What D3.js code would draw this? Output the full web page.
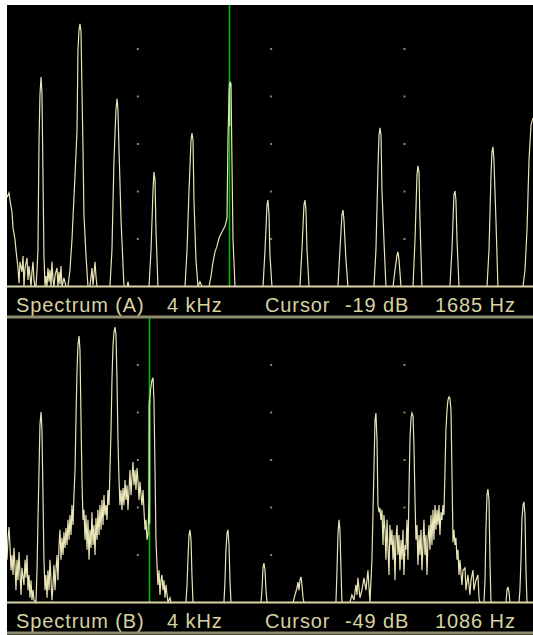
<!DOCTYPE html>
<html>
<head>
<meta charset="utf-8">
<script src="https://cdn.jsdelivr.net/npm/d3@7"></script>
<style>
  html, body { margin: 0; padding: 0; background: #ffffff; }
  svg { display: block; }
</style>
</head>
<body>
<svg id="chart" width="533" height="635"></svg>
<script>
// ---- analyser settings -------------------------------------------------
const spanHz = [0, 4000];
const spanLabel = "4 kHz";
const gridHz = [1000, 2000, 3000];
const panelNames = ["Spectrum (A)", "Spectrum (B)"];
const refLevelDb = [0, -30];          // level at the top edge of each screen
const dbPerDiv = 10;
const divisions = 6;
const cursorHz = [1685, 1086];
const cursorDb = [-19, -49];

// ---- measured spectra: [frequency Hz, level dB] ------------------------
const traceA = [
  [19,-41.2],[34,-40.3],[41,-41.8],[56,-44.3],[64,-47.7],[79,-50.2],[86,-52.3],[101,-56.1],
  [109,-59.3],[116,-54.8],[131,-56.9],[139,-53.6],[146,-60],[154,-56.1],[169,-54.0],[176,-58.6],
  [184,-55.7],[199,-60],[206,-56.9],[214,-54.8],[221,-58.6],[229,-60],[236,-60],
  [244,-56.5],[251,-52.3],[259,-29.2],[266,-19.7],[274,-15.9],[281,-19.1],[289,-37.6],[296,-53.4],[304,-60],
  [311,-57.8],[319,-60],[326,-56.1],[334,-59.0],[341,-56.5],[349,-60],[356,-54.8],[364,-58.6],
  [371,-60],[379,-57.6],[394,-56.1],[401,-60],[409,-56.9],[416,-59.5],[424,-55.7],[431,-60],[446,-58.2],[461,-60],
  [476,-60],[491,-56.5],[506,-50.2],[529,-36.5],[544,-27.1],[551,-10.2],[559,-6.0],[566,-4.7],
  [574,-6.4],[581,-18.6],[589,-31.3],[596,-44.9],[611,-53.4],[626,-60],
  [641,-60],[656,-56.1],[664,-59.7],[679,-54.8],[686,-57.8],[694,-60],[716,-60],
  [791,-60],[806,-52.3],[821,-33.4],[836,-22.8],[844,-20.5],[851,-22.8],[859,-31.3],[874,-46.0],[896,-60],
  [919,-60],[926,-59.0],[934,-60],
  [1084,-60],[1099,-52.3],[1114,-39.7],[1121,-35.9],[1129,-37.6],[1136,-48.1],[1151,-60],
  [1354,-60],[1369,-52.3],[1384,-39.7],[1399,-29.2],[1406,-27.7],[1414,-29.2],[1421,-41.8],[1436,-54.4],
  [1451,-60],[1466,-59.0],[1481,-60],
  [1534,-60],[1549,-57.8],[1564,-54.8],[1579,-52.7],[1594,-51.5],[1609,-49.8],[1624,-48.9],[1639,-48.1],
  [1654,-47.3],[1669,-45.6],[1676,-29.2],[1685,-19],[1693,-16.9],[1699,-17.4],[1706,-33.4],[1714,-50.2],[1729,-60],
  [1939,-60],[1954,-52.3],[1969,-42.8],[1976,-41.8],[1984,-44.9],[1991,-53.4],[2006,-60],
  [2216,-60],[2231,-52.3],[2246,-42.8],[2254,-41.8],[2261,-43.9],[2269,-52.3],[2284,-60],
  [2501,-60],[2516,-52.3],[2531,-44.9],[2539,-43.9],[2546,-46.0],[2561,-54.4],[2576,-60],
  [2771,-60],[2786,-52.3],[2801,-35.5],[2809,-28.1],[2816,-26.6],[2824,-28.1],[2831,-39.7],[2846,-50.2],[2861,-60],
  [2914,-60],[2929,-56.5],[2944,-53.4],[2951,-52.7],[2959,-54.4],[2974,-60],
  [3064,-60],[3079,-50.2],[3094,-36.5],[3101,-34.6],[3109,-35.9],[3116,-46.0],[3131,-60],
  [3341,-60],[3356,-52.3],[3371,-40.7],[3379,-39.9],[3386,-41.8],[3394,-50.2],[3409,-60],
  [3619,-60],[3634,-52.3],[3649,-36.5],[3656,-31.7],[3664,-30.6],[3671,-33.4],[3686,-46.0],[3701,-60],
  [3889,-60],[3904,-56.5],[3919,-48.1],[3934,-33.4],[3949,-26.0],[3964,-24.5]
];

const traceB = [
  [19,-81.0],[26,-76.8],[34,-74.1],[41,-77.9],[49,-83.2],[56,-80.0],[64,-84.2],[71,-78.5],[79,-82.3],
  [86,-87.4],[94,-81.0],[101,-85.3],[109,-79.4],[116,-83.6],[124,-88.4],[131,-82.7],[146,-86.3],
  [154,-81.0],[161,-84.8],[169,-80.0],[176,-87.4],[184,-84.2],[191,-89.0],[199,-85.3],[206,-89.5],
  [214,-87.4],[221,-89.5],
  [236,-90],[244,-83.2],[251,-72.6],[259,-62.1],[266,-52.6],[274,-49.9],[281,-53.7],[289,-68.4],[296,-81.0],[304,-87.4],
  [311,-84.2],[319,-89.0],[326,-83.2],[334,-87.4],[341,-81.0],[349,-85.3],[356,-89.5],[364,-86.3],
  [371,-82.1],[379,-87.4],[386,-83.2],[394,-80.0],[401,-85.3],[409,-77.9],[416,-74.7],[424,-81.0],
  [431,-76.4],[439,-80.0],[446,-75.2],[454,-78.5],[461,-74.3],[469,-77.9],[476,-72.6],[484,-76.8],
  [491,-71.6],[499,-75.8],[506,-69.5],[514,-73.7],[521,-67.4],[529,-62.1],[536,-51.6],[544,-41.1],
  [551,-35.8],[559,-33.9],[566,-36.8],[574,-51.6],[581,-64.2],[589,-72.6],[596,-70.5],[604,-76.8],
  [611,-71.6],[619,-78.9],[626,-72.6],[634,-81.0],[641,-74.7],[649,-78.5],[656,-71.0],[664,-77.9],
  [671,-73.7],[679,-80.0],[686,-72.2],[694,-76.8],[701,-70.5],[709,-75.8],[716,-69.5],[724,-74.7],
  [731,-68.4],[739,-73.7],[746,-67.4],[754,-71.6],[761,-69.5],[769,-72.6],[776,-66.3],[784,-69.5],
  [791,-62.1],[799,-53.7],[806,-43.2],[814,-35.8],[821,-33.1],[829,-32.0],[836,-33.7],[844,-43.2],
  [851,-55.8],[859,-64.2],[866,-69.5],[874,-66.3],[881,-70.5],[889,-65.9],[896,-69.5],[904,-64.2],
  [911,-68.4],[919,-65.3],[926,-70.5],[934,-66.3],[941,-62.1],[949,-67.4],[956,-63.8],[964,-60.4],
  [971,-65.3],[979,-62.1],[986,-66.3],[994,-61.7],[1001,-64.2],[1009,-68.4],[1016,-64.6],[1024,-67.4],
  [1031,-69.5],[1039,-66.3],[1046,-70.5],[1054,-74.7],[1061,-72.6],[1069,-76.8],[1076,-75.8],[1084,-68.4],
  [1086,-49],[1095,-45.3],[1106,-43.2],[1114,-42.7],[1121,-47.4],[1129,-62.1],[1136,-76.8],[1144,-82.1],
  [1151,-86.3],[1159,-83.2],[1166,-88.4],[1174,-85.3],[1181,-84.2],[1189,-87.4],[1196,-85.3],[1204,-89.0],
  [1211,-86.3],[1219,-88.4],[1226,-90],[1241,-89.0],[1249,-90],
  [1361,-90],[1369,-86.3],[1376,-81.0],[1384,-75.8],[1391,-74.7],[1399,-76.8],[1406,-84.2],[1414,-90],
  [1646,-90],[1654,-85.3],[1661,-78.9],[1669,-75.4],[1676,-74.7],[1684,-77.9],[1691,-85.3],[1699,-90],
  [1924,-90],[1931,-87.4],[1939,-82.7],[1946,-81.7],[1954,-83.2],[1961,-87.4],[1969,-90],
  [2164,-90],[2179,-88.4],[2194,-86.9],[2201,-85.7],[2209,-87.4],[2216,-85.3],[2224,-84.6],[2231,-86.3],
  [2239,-89.0],[2246,-90],
  [2486,-90],[2494,-83.2],[2501,-75.8],[2509,-72.6],[2516,-74.7],[2524,-83.2],[2531,-90],
  [2591,-90],[2606,-88.4],[2621,-89.5],[2636,-86.3],[2644,-88.4],[2651,-84.8],[2666,-89.0],[2681,-87.4],
  [2696,-84.8],[2711,-87.4],[2726,-83.2],[2741,-90],
  [2756,-81.0],[2771,-62.1],[2779,-51.6],[2786,-50.1],[2794,-55.8],[2801,-69.5],[2809,-71.0],[2816,-70.1],
  [2824,-72.6],[2831,-70.5],[2839,-77.9],[2846,-71.6],[2854,-74.7],[2861,-81.0],[2869,-72.6],[2876,-78.5],
  [2884,-84.2],[2891,-73.7],[2899,-77.9],[2906,-74.7],[2914,-81.0],[2921,-75.8],[2929,-85.3],[2936,-76.8],
  [2944,-73.7],[2951,-80.0],[2959,-75.8],[2966,-83.2],[2974,-76.8],[2981,-81.0],[2989,-74.7],[2996,-84.2],
  [3004,-77.9],[3011,-78.9],[3019,-72.6],[3026,-81.0],[3034,-66.3],[3041,-55.8],[3049,-51.2],[3056,-50.1],
  [3064,-50.7],[3071,-56.8],[3079,-68.4],[3086,-76.8],[3094,-73.7],[3101,-82.1],[3109,-75.8],[3116,-80.0],
  [3124,-74.7],[3131,-83.2],[3139,-77.9],[3146,-72.6],[3154,-80.0],[3161,-75.8],[3169,-84.2],[3176,-76.8],
  [3184,-73.7],[3191,-78.9],[3199,-71.6],[3206,-77.9],[3214,-70.5],[3221,-76.8],[3229,-69.5],[3236,-74.7],
  [3244,-70.5],[3251,-73.7],[3259,-69.5],[3266,-75.8],[3274,-71.0],[3281,-72.6],[3289,-69.5],[3296,-71.6],
  [3304,-62.1],[3311,-53.7],[3319,-49.5],[3326,-47.4],[3334,-46.7],[3341,-47.0],[3349,-49.5],[3356,-62.1],
  [3364,-77.3],[3371,-74.7],[3379,-77.9],[3386,-76.4],[3394,-81.0],[3401,-78.9],[3409,-84.2],[3416,-81.0],
  [3431,-86.3],[3439,-83.2],[3454,-82.7],[3461,-87.4],[3476,-84.2],[3491,-88.4],[3499,-85.3],[3514,-83.2],
  [3521,-87.4],[3536,-85.3],[3551,-84.2],[3559,-89.0],[3566,-90],
  [3596,-90],[3604,-85.3],[3611,-74.7],[3619,-67.4],[3626,-66.1],[3634,-68.4],[3641,-81.0],[3649,-90],
  [3761,-90],[3769,-87.4],[3776,-86.7],[3784,-87.8],[3791,-90],
  [3859,-90],[3866,-87.4],[3874,-81.0],[3881,-72.6],[3889,-69.5],[3896,-68.8],[3904,-71.6],[3911,-83.2],
  [3919,-90],[3964,-90]
];
const traces = [traceA, traceB];

// ---- screen geometry ---------------------------------------------------
const W = 533, H = 635;
const screen = { left: 7, top: 5, right: 533, bottom: 635 };
const plotLeft = 4.5, plotRight = 537.8;
const panelTop = [1.5, 317.5];
const plotH = 285;
const barH = 29;

const colors = {
  bg: "#000000",
  trace: "#e9e5b6",
  base: "#d9d5a6",
  text: "#d6d2a2",
  dots: "#8c8a6a",
  sep: "#8e8c6e",
  cursor: "#00c000",
  cursorHi: "#a6f58a"
};

const svg = d3.select("#chart");
svg.append("rect").attr("width", W).attr("height", H).attr("fill", "#ffffff");
svg.append("rect")
  .attr("x", screen.left).attr("y", screen.top)
  .attr("width", screen.right - screen.left).attr("height", screen.bottom - screen.top)
  .attr("fill", colors.bg);

const defs = svg.append("defs");
defs.append("clipPath").attr("id", "screenClip")
  .append("rect")
  .attr("x", screen.left).attr("y", screen.top)
  .attr("width", screen.right - screen.left).attr("height", screen.bottom - screen.top);

const root = svg.append("g").attr("clip-path", "url(#screenClip)");

const x = d3.scaleLinear().domain(spanHz).range([plotLeft, plotRight]);

panelNames.forEach((name, i) => {
  const top = panelTop[i];
  const bottom = top + plotH;
  const ref = refLevelDb[i];
  const y = d3.scaleLinear()
    .domain([ref - dbPerDiv * divisions, ref])
    .range([bottom, top]);

  defs.append("clipPath").attr("id", "plot" + i)
    .append("rect")
    .attr("x", plotLeft).attr("y", top)
    .attr("width", plotRight - plotLeft).attr("height", plotH + 1);

  const g = root.append("g");

  // graticule dots
  const levels = d3.range(1, divisions).map(k => ref - k * dbPerDiv);
  const dots = [];
  gridHz.forEach(f => levels.forEach(l => dots.push([f, l])));
  g.append("g").selectAll("rect").data(dots).join("rect")
    .attr("x", d => x(d[0]) - 1).attr("y", d => y(d[1]) - 1)
    .attr("width", 2).attr("height", 2)
    .attr("fill", colors.dots);

  // cursor
  const cx = Math.round(x(cursorHz[i])) + 0.5;
  g.append("line")
    .attr("x1", cx).attr("x2", cx)
    .attr("y1", top).attr("y2", bottom)
    .attr("stroke", colors.cursor).attr("stroke-width", 1.6);

  // spectrum trace
  const data = traces[i];
  const line = d3.line().x(d => x(d[0])).y(d => y(d[1]));
  g.append("path")
    .attr("clip-path", `url(#plot${i})`)
    .attr("d", line(data))
    .attr("fill", "none")
    .attr("stroke", colors.trace)
    .attr("stroke-width", 1.2)
    .attr("stroke-linejoin", "miter");

  // where the trace runs along the cursor, the two blend into a lighter green
  const px = data.map(d => [x(d[0]), y(d[1])]);
  const near = [];
  for (let k = 0; k < px.length - 1; k++) {
    const [x0, y0] = px[k], [x1, y1] = px[k + 1];
    if (Math.max(x0, x1) < cx - 1.2 || Math.min(x0, x1) > cx + 1.2) continue;
    const a = Math.max(Math.min(x0, x1), cx - 1.2), b = Math.min(Math.max(x0, x1), cx + 1.2);
    [a, b].forEach(xx => {
      const t = x1 === x0 ? 0 : (xx - x0) / (x1 - x0);
      near.push(y0 + t * (y1 - y0));
    });
  }
  if (near.length) {
    g.append("line")
      .attr("x1", cx).attr("x2", cx)
      .attr("y1", Math.max(d3.min(near), y(cursorDb[i]) - 8)).attr("y2", d3.max(near))
      .attr("stroke", colors.cursorHi).attr("stroke-width", 1.6);
  }

  // baseline of the screen
  g.append("line")
    .attr("x1", screen.left).attr("x2", screen.right)
    .attr("y1", bottom).attr("y2", bottom)
    .attr("stroke", colors.base).attr("stroke-width", 2);

  // status bar
  const ty = bottom + 25;
  const status = [
    [name, 16],
    [spanLabel, 167],
    ["Cursor", 265],
    [`${cursorDb[i]} dB`, 345],
    [`${cursorHz[i]} Hz`, 435]
  ];
  g.append("g").selectAll("text").data(status).join("text")
    .attr("x", d => d[1]).attr("y", ty)
    .attr("fill", colors.text)
    .attr("font-family", "'Liberation Sans', Arial, sans-serif")
    .attr("font-size", 20)
    .attr("letter-spacing", 0.9)
    .text(d => d[0]);

  g.append("rect")
    .attr("x", screen.left).attr("y", bottom + barH)
    .attr("width", screen.right - screen.left).attr("height", 3)
    .attr("fill", colors.sep);
});
</script>
</body>
</html>
